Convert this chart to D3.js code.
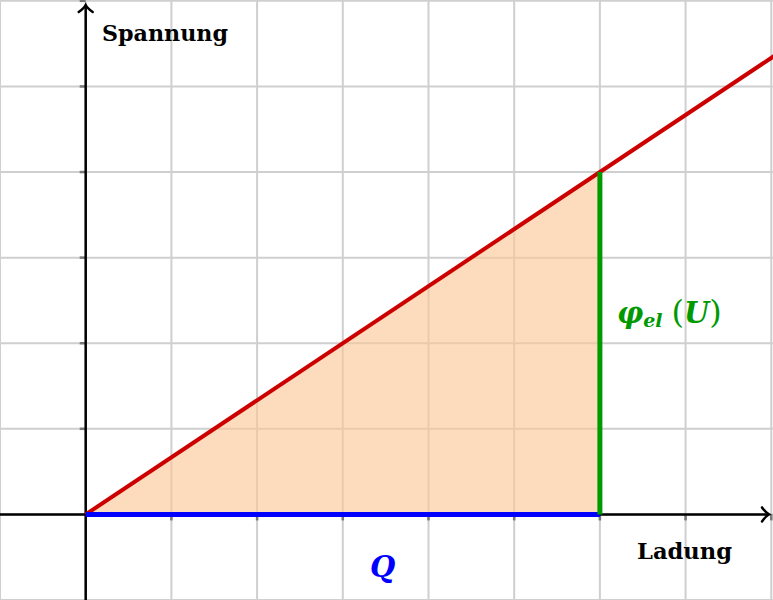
<!DOCTYPE html>
<html><head><meta charset="utf-8">
<script src="https://cdn.jsdelivr.net/npm/d3@7"></script>
<style>body{margin:0;background:#fff}svg{display:block}</style>
</head><body>
<svg id="c" width="773" height="600"></svg>
<script>
const xGrid = [-1,0,1,2,3,4,5,6,7,8];
const yGrid = [-1,0,1,2,3,4,5,6];
const xTicks = [1,2,3,4,5,6,7,8];
const yTicks = [1,2,3,4,5,6];
const lineX = [0, 8.1];
const lineY = [0, 5.4];
const areaX = [0, 6, 6];
const areaY = [0, 0, 4];
const qEnd = 6;
const uTop = 4;

const W = 773, H = 600;
const svg = d3.select('#c');
const x = d3.scaleLinear().domain([-1, 8.02]).range([0, W]);
const y = d3.scaleLinear().domain([-1, 6.01]).range([H, 0]);

// grid
svg.append('g').selectAll('line').data(xGrid).join('line')
  .attr('x1', d => x(d)).attr('x2', d => x(d)).attr('y1', 0).attr('y2', H)
  .attr('stroke', '#cfcfcf').attr('stroke-width', 2);
svg.append('g').selectAll('line').data(yGrid).join('line')
  .attr('y1', d => y(d)).attr('y2', d => y(d)).attr('x1', 0).attr('x2', W)
  .attr('stroke', '#cfcfcf').attr('stroke-width', 2);

// fill triangle
const tri = areaX.map((v, i) => [x(v), y(areaY[i])]);
svg.append('path').attr('d', d3.line()(tri) + 'Z')
  .attr('fill', 'rgb(252,198,148)').attr('fill-opacity', 0.62);

// ticks
svg.append('g').selectAll('line').data(xTicks).join('line')
  .attr('x1', d => x(d)).attr('x2', d => x(d)).attr('y1', y(0)).attr('y2', y(0) + 6)
  .attr('stroke', '#777').attr('stroke-width', 2.5);
svg.append('g').selectAll('line').data(yTicks).join('line')
  .attr('y1', d => y(d)).attr('y2', d => y(d)).attr('x1', x(0) - 6).attr('x2', x(0))
  .attr('stroke', '#777').attr('stroke-width', 2.5);

// axes
const ox = x(0), oy = y(0);
svg.append('line').attr('x1', 0).attr('x2', W - 5).attr('y1', oy).attr('y2', oy)
  .attr('stroke', '#000').attr('stroke-width', 2.5);
svg.append('line').attr('x1', ox).attr('x2', ox).attr('y1', H).attr('y2', 5)
  .attr('stroke', '#000').attr('stroke-width', 2.5);
// arrowheads
const ax = W - 4;
svg.append('path')
  .attr('d', `M${ax-7},${oy-7} Q${ax-3},${oy-1.5} ${ax},${oy} Q${ax-3},${oy+1.5} ${ax-7},${oy+7}`)
  .attr('fill', 'none').attr('stroke', '#000').attr('stroke-width', 2.5).attr('stroke-linecap', 'round');
const ay = 5;
svg.append('path')
  .attr('d', `M${ox-7},${ay+7} Q${ox-1.5},${ay+3} ${ox},${ay} Q${ox+1.5},${ay+3} ${ox+7},${ay+7}`)
  .attr('fill', 'none').attr('stroke', '#000').attr('stroke-width', 2.5).attr('stroke-linecap', 'round');

// red line
svg.append('line').attr('x1', x(lineX[0])).attr('y1', y(lineY[0]))
  .attr('x2', x(lineX[1])).attr('y2', y(lineY[1]))
  .attr('stroke', '#cc0000').attr('stroke-width', 4);

// blue Q line
svg.append('line').attr('x1', x(0)).attr('x2', x(qEnd)).attr('y1', oy).attr('y2', oy)
  .attr('stroke', '#0000ff').attr('stroke-width', 5);
// green U line
svg.append('line').attr('x1', x(qEnd)).attr('x2', x(qEnd)).attr('y1', oy).attr('y2', y(uTop))
  .attr('stroke', '#009900').attr('stroke-width', 5);

// labels
const serif = "'DejaVu Serif', 'Liberation Serif', serif";
svg.append('text').attr('x', 102).attr('y', 41).text('Spannung')
  .attr('font-family', serif).attr('font-weight', 'bold').attr('font-size', 22)
  .attr('textLength', 126).attr('lengthAdjust', 'spacingAndGlyphs');
svg.append('text').attr('x', 637).attr('y', 559).text('Ladung')
  .attr('font-family', serif).attr('font-weight', 'bold').attr('font-size', 22)
  .attr('textLength', 95).attr('lengthAdjust', 'spacingAndGlyphs');
svg.append('text').attr('x', 370).attr('y', 577).text('Q')
  .attr('font-family', serif).attr('font-weight', 'bold').attr('font-style', 'italic')
  .attr('font-size', 29).attr('fill', '#0000ff');
const t = svg.append('text').attr('x', 617).attr('y', 323)
  .attr('font-family', serif).attr('font-weight', 'bold').attr('fill', '#009900').attr('font-size', 29);
t.append('tspan').attr('font-style', 'italic').text('φ');
t.append('tspan').attr('font-style', 'italic').attr('font-size', 19).attr('dy', 4).text('el');
t.append('tspan').attr('dy', -4).attr('dx', 9).attr('font-weight', 'normal').attr('font-size', 32).text('(');
t.append('tspan').attr('font-style', 'italic').text('U');
t.append('tspan').attr('font-weight', 'normal').attr('font-size', 32).text(')');
</script>
</body></html>
